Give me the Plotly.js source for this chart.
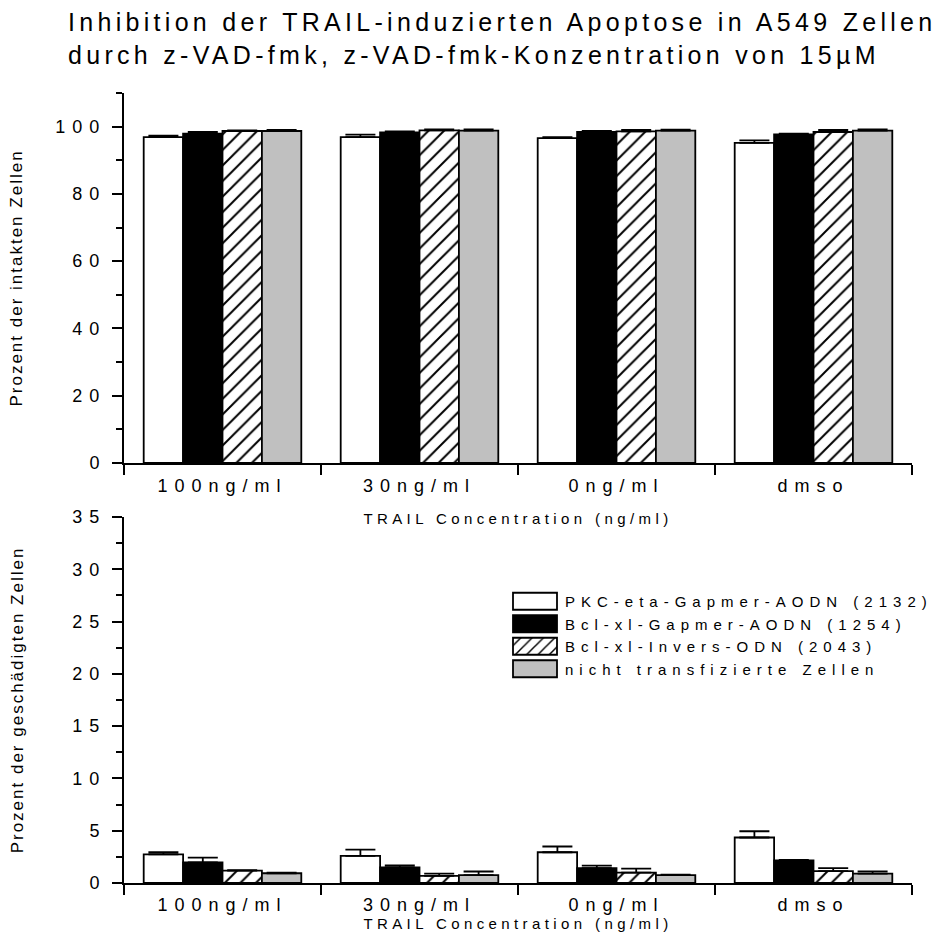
<!DOCTYPE html>
<html>
<head>
<meta charset="utf-8">
<script src="https://cdn.plot.ly/plotly-3.0.1.min.js"></script>
<style>
  html, body { margin: 0; padding: 0; background: #fff; }
  #plot { width: 951px; height: 942px; }
  text.gtitle { letter-spacing: 4.3px; }
  .xtick text, .x2tick text, .ytick text, .y2tick text { letter-spacing: 7px; }
  text.xtitle, text.x2title { letter-spacing: 4.4px; }
  text.ytitle, text.y2title { letter-spacing: 2px; }
  text.legendtext { letter-spacing: 6px; }
</style>
</head>
<body>
<div id="plot"></div>
<script>
// ---- data ----
const categories = ['100ng/ml', '30ng/ml', '0ng/ml', 'dmso'];
const seriesNames = ['PKC-eta-Gapmer-AODN (2132)', 'Bcl-xl-Gapmer-AODN (1254)', 'Bcl-xl-Invers-ODN (2043)', 'nicht transfizierte Zellen'];

// Prozent der intakten Zellen (top panel)
const intactPKC = [96.9, 96.9, 96.6, 95.2];
const intactPKCErr = [0.4, 0.7, 0.3, 0.7];
const intactBcl = [97.9, 98.3, 98.4, 97.7];
const intactBclErr = [0.5, 0.3, 0.3, 0.2];
const intactInv = [98.7, 98.9, 98.6, 98.4];
const intactInvErr = [0.2, 0.3, 0.4, 0.6];
const intactNT = [98.7, 98.8, 98.8, 98.8];
const intactNTErr = [0.3, 0.4, 0.3, 0.4];

// Prozent der geschädigten Zellen (bottom panel)
const damagedPKC = [2.74, 2.6, 2.94, 4.35];
const damagedPKCErr = [0.2, 0.6, 0.55, 0.6];
const damagedBcl = [1.98, 1.48, 1.41, 2.17];
const damagedBclErr = [0.44, 0.2, 0.26, 0.05];
const damagedInv = [1.18, 0.69, 1.0, 1.13];
const damagedInvErr = [0.05, 0.2, 0.38, 0.29];
const damagedNT = [0.93, 0.75, 0.75, 0.9];
const damagedNTErr = [0.05, 0.35, 0.05, 0.22];

// ---- styles ----
const FONT = '"Liberation Sans", Arial, sans-serif';
const styles = [
  { color: '#ffffff' },
  { color: '#000000' },
  { color: '#ffffff', pattern: { shape: '/', bgcolor: '#ffffff', fgcolor: '#000000', size: 11, solidity: 0.18 } },
  { color: '#c0c0c0' }
];

function makeTrace(name, y, err, idx, xa, ya, showlegend) {
  const marker = { color: styles[idx].color, line: { color: '#000', width: 1.8 } };
  if (styles[idx].pattern) marker.pattern = styles[idx].pattern;
  return {
    type: 'bar', name: name, x: categories, y: y,
    xaxis: xa, yaxis: ya, showlegend: showlegend, legendgroup: 'g' + idx,
    marker: marker,
    error_y: { type: 'data', symmetric: false, array: err, arrayminus: err.map(() => 0),
               color: '#000', thickness: 1.8, width: 15 }
  };
}

const topSets = [[intactPKC, intactPKCErr], [intactBcl, intactBclErr], [intactInv, intactInvErr], [intactNT, intactNTErr]];
const botSets = [[damagedPKC, damagedPKCErr], [damagedBcl, damagedBclErr], [damagedInv, damagedInvErr], [damagedNT, damagedNTErr]];

const data = [];
topSets.forEach((s, i) => data.push(makeTrace(seriesNames[i], s[0], s[1], i, 'x', 'y', false)));
botSets.forEach((s, i) => data.push(makeTrace(seriesNames[i], s[0], s[1], i, 'x2', 'y2', true)));

function xAxis(anchor, labelStandoff, titleStandoff) {
  return {
    type: 'category', anchor: anchor, domain: [0, 1],
    showline: true, linecolor: '#000', linewidth: 2,
    ticks: 'outside', tickson: 'boundaries', ticklen: 10, tickwidth: 2, tickcolor: '#000',
    ticklabelstandoff: labelStandoff,
    showgrid: false, zeroline: false, tickfont: { family: FONT, size: 18, color: '#000' },
    title: { text: 'TRAIL Concentration (ng/ml)', font: { family: FONT, size: 15, color: '#000' }, standoff: titleStandoff }
  };
}
const yCommon = {
  showline: true, linecolor: '#000', linewidth: 2, showgrid: false, zeroline: false,
  ticks: 'outside', ticklen: 10, tickwidth: 2, tickcolor: '#000', ticklabelstandoff: 2,
  tickfont: { family: FONT, size: 18, color: '#000' }
};
const minorCommon = { ticks: 'outside', ticklen: 6, tickwidth: 2, tickcolor: '#000', showgrid: false };

const layout = {
  width: 951, height: 942,
  paper_bgcolor: '#fff', plot_bgcolor: '#fff',
  margin: { l: 124, r: 39, t: 93, b: 59, autoexpand: false },
  barmode: 'group', bargap: 0.2, bargroupgap: 0,
  showlegend: true,
  title: {
    text: 'Inhibition der TRAIL-induzierten Apoptose in A549 Zellen<br>durch z-VAD-fmk, z-VAD-fmk-Konzentration von 15µM',
    x: 68 / 951, xanchor: 'left', xref: 'container',
    y: 1 - 31 / 942, yanchor: 'top', yref: 'container',
    font: { family: FONT, size: 25, color: '#000' }
  },
  xaxis: xAxis('y', 5, 19),
  yaxis: Object.assign({}, yCommon, {
    anchor: 'x', domain: [(883 - 463) / 790, 1], range: [0, 110],
    tickvals: [0, 20, 40, 60, 80, 100],
    minor: Object.assign({}, minorCommon, { tickvals: [10, 30, 50, 70, 90, 110] }),
    title: { text: 'Prozent der intakten Zellen', font: { family: FONT, size: 17, color: '#000' }, standoff: 28 }
  }),
  xaxis2: xAxis('y2', 4, 3),
  yaxis2: Object.assign({}, yCommon, {
    anchor: 'x2', domain: [0, (883 - 517) / 790], range: [0, 35],
    tickvals: [0, 5, 10, 15, 20, 25, 30, 35],
    minor: Object.assign({}, minorCommon, { tickvals: [2.5, 7.5, 12.5, 17.5, 22.5, 27.5, 32.5] }),
    title: { text: 'Prozent der geschädigten Zellen', font: { family: FONT, size: 17, color: '#000' }, standoff: 44 }
  }),
  legend: {
    xref: 'container', yref: 'container',
    x: 505 / 951, xanchor: 'left', y: 1 - 585 / 942, yanchor: 'top',
    bgcolor: 'rgba(0,0,0,0)', borderwidth: 0, itemwidth: 50,
    font: { family: FONT, size: 15, color: '#000' }, tracegroupgap: 0, traceorder: 'normal'
  }
};

Plotly.newPlot('plot', data, layout, { displayModeBar: false, staticPlot: true }).then(function (gd) {
  // widen legend swatches to match the reference's wide boxes
  gd.querySelectorAll('.legend .legendpoints path').forEach(function (p) {
    p.setAttribute('d', 'M22,8.5H-22V-8.5H22Z');
  });
});
</script>
</body>
</html>
